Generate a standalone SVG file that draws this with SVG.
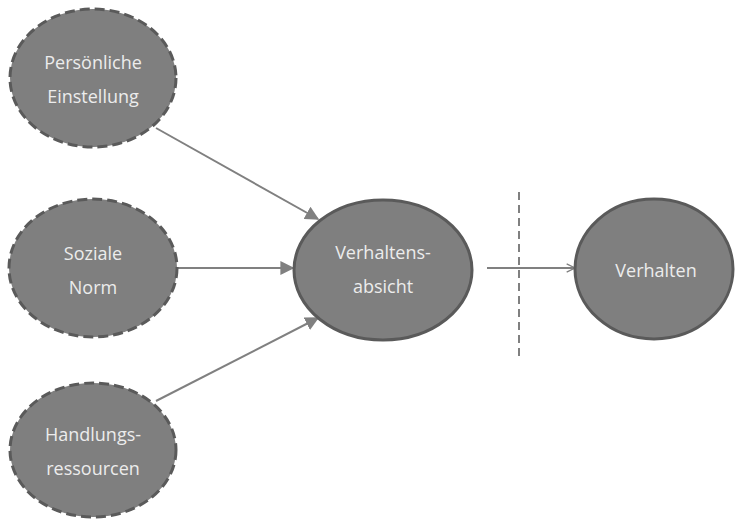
<svg xmlns="http://www.w3.org/2000/svg" width="736" height="520" viewBox="0 0 736 520">
<style>
.n{fill:#7f7f7f;stroke:#5a5a5a;stroke-width:3}
.d{stroke-dasharray:10 5}
.t{font-family:"Open Sans","Liberation Sans",sans-serif;font-size:18px;fill:#ececec;text-anchor:middle}
.c{stroke:#808080;stroke-width:2;fill:none}
</style>
<defs>
<marker id="ah" viewBox="0 0 10 10" refX="9" refY="5" markerWidth="7" markerHeight="7" orient="auto" markerUnits="strokeWidth">
<path d="M0,0 L10,5 L0,10 z" fill="#808080"/>
</marker>
<marker id="oh" viewBox="0 0 12 12" refX="11" refY="6" markerWidth="10" markerHeight="10" orient="auto" markerUnits="userSpaceOnUse">
<path d="M1,1 L11,6 L1,11" fill="none" stroke="#808080" stroke-width="1.6"/>
</marker>
</defs>
<g id="connectors">
<line class="c" x1="156" y1="128" x2="318" y2="219" marker-end="url(#ah)"/>
<line class="c" x1="178" y1="268" x2="293" y2="268" marker-end="url(#ah)"/>
<line class="c" x1="156" y1="401" x2="318" y2="318" marker-end="url(#ah)"/>
<line class="c" x1="487" y1="268" x2="575" y2="268" marker-end="url(#oh)"/>
<line x1="519" y1="192" x2="519" y2="358" stroke="#808080" stroke-width="2" stroke-dasharray="8 5"/>
</g>
<g id="persoenliche-einstellung">
<ellipse class="n d" cx="93" cy="78" rx="83" ry="69"/>
<text class="t" x="93" y="69">Persönliche</text>
<text class="t" x="93" y="103">Einstellung</text>
</g>
<g id="soziale-norm">
<ellipse class="n d" cx="93" cy="268" rx="84" ry="69"/>
<text class="t" x="93" y="260">Soziale</text>
<text class="t" x="93" y="294">Norm</text>
</g>
<g id="handlungsressourcen">
<ellipse class="n d" cx="93" cy="450" rx="83" ry="67"/>
<text class="t" x="93" y="441">Handlungs-</text>
<text class="t" x="93" y="475">ressourcen</text>
</g>
<g id="verhaltensabsicht">
<ellipse class="n" cx="383" cy="270" rx="89" ry="70"/>
<text class="t" x="383" y="259">Verhaltens-</text>
<text class="t" x="383" y="293">absicht</text>
</g>
<g id="verhalten">
<ellipse class="n" cx="654" cy="269" rx="79" ry="70"/>
<text class="t" x="656" y="277">Verhalten</text>
</g>
</svg>
